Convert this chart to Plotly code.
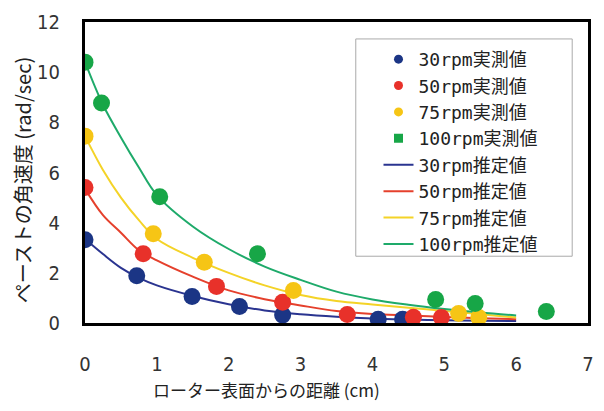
import plotly.graph_objects as go

# Measured angular velocity of the paste (rad/sec) vs distance from rotor surface (cm)
x_30 = [0.0, 0.72, 1.49, 2.15, 2.75, 4.08, 4.42]
y_30 = [3.32, 1.88, 1.06, 0.66, 0.32, 0.15, 0.15]

x_50 = [0.0, 0.81, 1.83, 2.75, 3.65, 4.57, 4.96]
y_50 = [5.4, 2.76, 1.46, 0.83, 0.34, 0.23, 0.22]

x_75 = [0.0, 0.95, 1.66, 2.9, 5.2, 5.48]
y_75 = [7.45, 3.56, 2.42, 1.3, 0.38, 0.22]

x_100 = [0.0, 0.23, 1.04, 2.4, 4.88, 5.43, 6.42]
y_100 = [10.4, 8.77, 5.03, 2.76, 0.94, 0.78, 0.46]

# Estimated curves
curve_x = [0.0, 0.25, 0.5, 0.75, 1.0, 1.5, 2.0, 2.5, 3.0, 3.5, 4.0, 4.5, 5.0, 5.5, 6.0]
curve_30 = [3.35, 2.75, 2.2, 1.8, 1.5, 1.08, 0.75, 0.5, 0.35, 0.25, 0.18, 0.14, 0.11, 0.09, 0.08]
curve_50 = [5.35, 4.3, 3.6, 2.9, 2.5, 1.85, 1.3, 0.95, 0.7, 0.48, 0.36, 0.3, 0.24, 0.19, 0.15]
curve_75 = [7.45, 6.1, 5.0, 4.1, 3.35, 2.6, 2.0, 1.5, 1.12, 0.88, 0.74, 0.61, 0.48, 0.35, 0.22]
curve_100 = [10.4, 8.7, 7.4, 6.2, 5.1, 3.85, 2.95, 2.25, 1.72, 1.25, 0.94, 0.73, 0.56, 0.42, 0.3]

x_ticks = [0, 1, 2, 3, 4, 5, 6, 7]
y_ticks = [0, 2, 4, 6, 8, 10, 12]

marker_colors = ["#1b3585", "#e8312a", "#f6c515", "#17a647"]
line_colors = ["#2a3490", "#e5402c", "#f4d327", "#1eaa6a"]
labels = ["30rpm", "50rpm", "75rpm", "100rpm"]
legend_symbols = ["circle", "circle", "circle", "square"]

measured = [(x_30, y_30), (x_50, y_50), (x_75, y_75), (x_100, y_100)]
curves = [curve_30, curve_50, curve_75, curve_100]

fig = go.Figure()

# Estimated curves (drawn under the measured points)
for yv, c in zip(curves, line_colors):
    fig.add_trace(go.Scatter(x=curve_x, y=yv, mode="lines", line=dict(color=c, width=2, shape="spline"),
                             showlegend=False, hoverinfo="skip"))

# Measured points
for (xv, yv), c in zip(measured, marker_colors):
    fig.add_trace(go.Scatter(x=xv, y=yv, mode="markers", marker=dict(color=c, size=17),
                             showlegend=False))

# Legend entries
for lab, c, s in zip(labels, marker_colors, legend_symbols):
    fig.add_trace(go.Scatter(x=[None], y=[None], mode="markers", name=lab + "実測値",
                             marker=dict(color=c, size=9, symbol=s)))
for lab, c in zip(labels, line_colors):
    fig.add_trace(go.Scatter(x=[None], y=[None], mode="lines", name=lab + "推定値",
                             line=dict(color=c, width=2)))

tick_font = dict(family="DejaVu Sans Condensed, sans-serif", size=20, color="#333")
jp_font = "Noto Sans CJK JP"

# Plot-area geometry (px) used to place the legend frame and titles
L, R, T, B = 85, 594, 21, 323
W, H = R - L, B - T


def px_x(p):
    return (p - L) / W


def px_y(p):
    return (B - p) / H


fig.update_layout(
    width=604, height=411,
    margin=dict(l=L, r=604 - R, t=T, b=411 - B),
    paper_bgcolor="white", plot_bgcolor="white",
    showlegend=True,
    legend=dict(x=px_x(382), y=px_y(40), xanchor="left", yanchor="top",
                bgcolor="rgba(0,0,0,0)", borderwidth=0,
                font=dict(family="DejaVu Sans Mono, " + jp_font, size=18, color="#222"),
                itemsizing="trace", tracegroupgap=0),
    xaxis=dict(range=[0, 7], tickvals=x_ticks, ticks="outside", ticklen=21,
               tickcolor="rgba(0,0,0,0)",
               showgrid=False, zeroline=False, showline=True, linecolor="black", linewidth=3,
               mirror=True, tickfont=tick_font),
    yaxis=dict(range=[0, 12], tickvals=y_ticks, ticks="outside", ticklen=18,
               tickcolor="rgba(0,0,0,0)", showgrid=False, zeroline=False,
               showline=True, linecolor="black", linewidth=3, mirror=True,
               tickfont=tick_font),
    shapes=[
        dict(type="rect", xref="paper", yref="paper", layer="below",
             x0=px_x(359), x1=px_x(578), y0=px_y(256), y1=px_y(38),
             line=dict(color="#aaaaaa", width=1), fillcolor="white"),
    ],
    annotations=[
        dict(text="ローター表面からの距離 (cm)", xref="paper", yref="paper",
             x=px_x(269), y=px_y(390), xanchor="center", yanchor="middle", showarrow=False,
             font=dict(family=jp_font, size=17, color="#222")),
        dict(text="ペーストの角速度 (rad/sec)", xref="paper", yref="paper",
             x=px_x(22), y=px_y(180), xanchor="center", yanchor="middle",
             textangle=-90, showarrow=False,
             font=dict(family=jp_font, size=20, color="#222")),
    ],
)

fig.write_html("out.html")
